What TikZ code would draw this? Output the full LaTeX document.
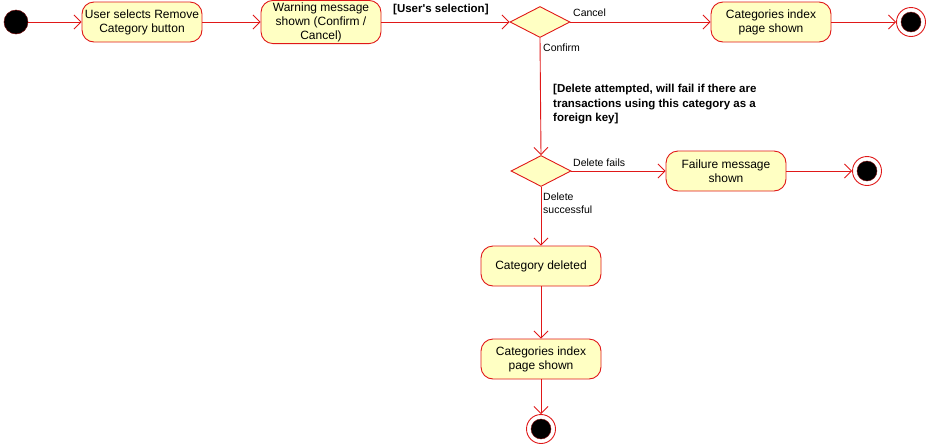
\documentclass[tikz,border=0pt]{standalone}
\usepackage{fontspec}
\setmainfont{Liberation Sans}
\usetikzlibrary{arrows.meta,shapes.geometric}
\definecolor{lred}{HTML}{E01818}
\definecolor{lyel}{HTML}{FFFFC3}
\tikzset{
  act/.style={draw=lred, fill=lyel, rounded corners=12pt, minimum width=120pt, minimum height=40pt, align=center, font=\fontsize{12}{14}\selectfont, inner sep=2pt, line width=0.9pt},
  dec/.style={draw=lred, fill=lyel, diamond, minimum width=60pt, minimum height=31pt, inner sep=0pt, line width=0.9pt},
  startn/.style={circle, fill=black, draw=lred!50!black, minimum size=24pt, inner sep=0pt, line width=0.5pt},
  endo/.style={circle, fill=white, draw=lred, minimum size=29pt, inner sep=0pt, line width=0.9pt},
  endi/.style={circle, fill=black, draw=lred!60!black, minimum size=20pt, inner sep=0pt, line width=0.4pt},
  flow/.style={draw=lred, line width=0.9pt, -{Straight Barb[length=7pt,width=14pt,line width=0.9pt]}},
  lbl/.style={font=\fontsize{10.5}{12.5}\selectfont, inner sep=0pt, align=left},
  glbl/.style={font=\bfseries\fontsize{11.5}{14.5}\selectfont, inner sep=0pt, align=left},
}
\begin{document}
\begin{tikzpicture}[x=1pt,y=-1pt]
\useasboundingbox (0,0) rectangle (927,445);
\node[startn] (s) at (16,22) {};
\node[act] (a1) at (142,22) {User selects Remove\\Category button};
\node[act] (a2) at (321,22) {Warning message\\shown (Confirm /\\Cancel)};
\node[dec] (d1) at (540,22) {};
\node[act] (a3) at (771,22) {Categories index\\page shown};
\node[endo] (e1o) at (911,22) {};
\node[endi] (e1) at (911,22) {};
\node[dec] (d2) at (541,171) {};
\node[act] (a4) at (726,171) {Failure message\\shown};
\node[endo] (e2o) at (867,171) {};
\node[endi] (e2) at (867,171) {};
\node[act] (a5) at (541,266) {Category deleted};
\node[act] (a6) at (541,359) {Categories index\\page shown};
\node[endo] (e3o) at (541,429) {};
\node[endi] (e3) at (541,429) {};

\draw[flow] (s) -- (a1);
\draw[flow] (a1) -- (a2);
\draw[flow] (a2) -- (d1);
\draw[flow] (d1) -- (a3);
\draw[flow] (a3) -- (e1o);
\draw[flow] (d1.south) -- (d2.north);
\draw[flow] (d2) -- (a4);
\draw[flow] (a4) -- (e2o);
\draw[flow] (d2.south) -- (a5.north);
\draw[flow] (a5) -- (a6);
\draw[flow] (a6) -- (e3o);

\node[glbl, anchor=west] (g1) at (393,10) {[User\textquotesingle s selection]};
\node[lbl, anchor=west] (l1) at (573,13) {Cancel};
\node[lbl, anchor=west] (l2) at (543,48) {Confirm};
\node[glbl, anchor=north west] (g2) at (553,84) {[Delete attempted, will fail if there are\\transactions using this category as a\\foreign key]};
\node[lbl, anchor=west] (l3) at (573,163) {Delete fails};
\node[lbl, anchor=north west] (l4) at (543,193) {Delete\\successful};
\end{tikzpicture}
\end{document}
